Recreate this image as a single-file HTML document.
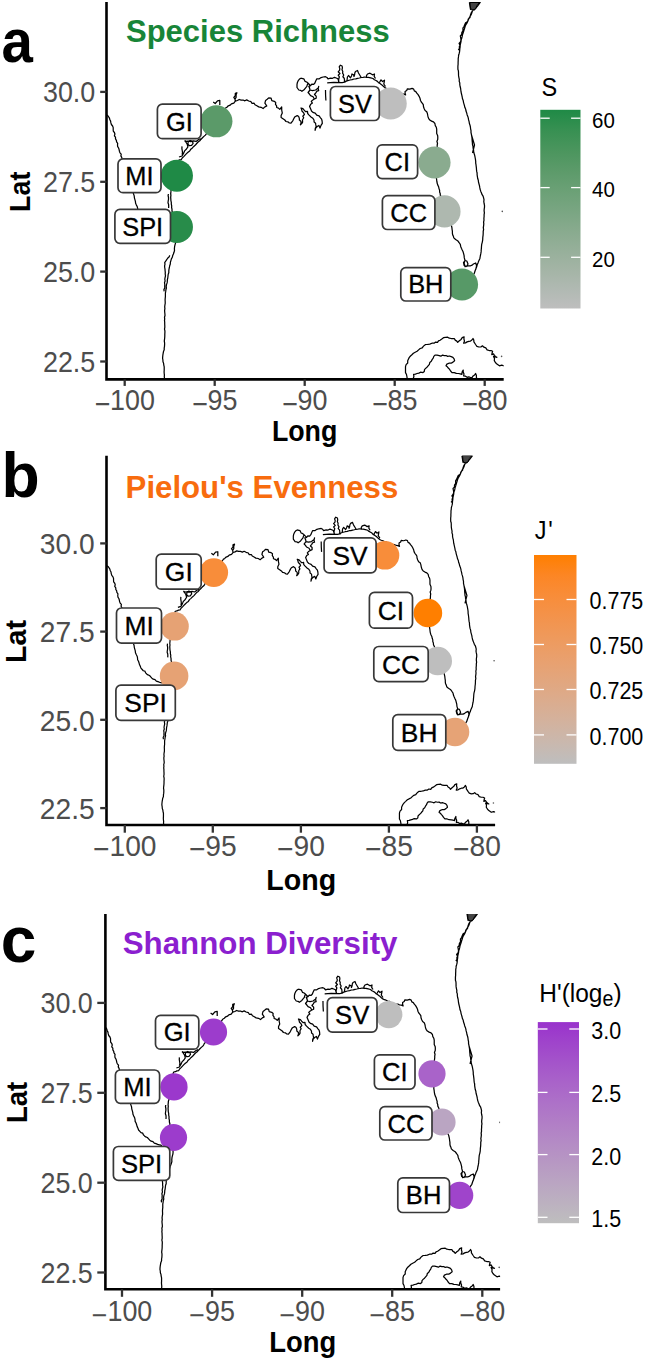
<!DOCTYPE html>
<html><head><meta charset="utf-8"><style>html,body{margin:0;padding:0;background:#fff;}svg{display:block;}text{font-family:"Liberation Sans",sans-serif;}</style></head><body>
<svg width="645" height="1361" viewBox="0 0 645 1361">
<defs>
<path id="coast" d="M106.5 114.7 L108.1 116.0 L109.3 117.8 L109.8 119.5 L110.6 121.1 L110.9 122.9 L111.4 124.5 L112.6 126.0 L113.2 127.6 L113.2 129.5 L113.3 131.2 L114.4 132.5 L114.9 134.0 L114.4 135.8 L115.5 137.2 L115.5 138.9 L116.4 140.3 L116.6 141.9 L117.7 143.3 L117.5 145.0 L117.7 146.6 L118.6 148.0 L119.1 149.6 L119.4 151.2 L120.0 152.8 L121.2 154.1 L120.9 155.9 L121.7 157.4 L122.2 159.0 L123.1 160.3 L124.1 161.7 L123.8 163.6 L124.8 165.0 L125.1 166.6 L126.0 168.0 L126.1 169.9 L126.9 171.5 L127.2 173.3 L128.4 174.8 L128.5 176.7 L129.5 178.3 L130.0 180.0 L129.9 181.7 L130.4 183.2 L131.7 184.6 L132.0 186.2 L132.3 187.7 L131.9 189.5 L132.9 190.9 L133.1 192.6 L133.6 194.1 L134.2 195.9 L134.4 197.8 L134.9 199.6 L135.4 201.4 L135.6 203.3 L136.4 205.1 L137.3 206.8 L137.7 208.6 L137.8 210.4 L138.7 212.0 L139.3 213.8 L139.8 215.6 L140.6 217.2 L141.2 219.0 L142.5 220.4 L143.6 221.6 L145.3 222.1 L146.0 223.8 L147.1 224.9 L148.4 225.9 L150.0 226.5 L151.2 227.8 L152.4 229.2 L153.8 230.2 L155.6 230.7 L156.9 232.2 L158.6 232.7 L160.3 233.4 L161.9 233.8 L163.6 234.2 L164.8 235.7 L166.2 236.4 L168.0 236.5 L169.9 236.3 L171.7 237.4 L173.6 237.2 L175.5 237.6 M164.7 380.0 L164.5 378.4 L164.3 376.8 L164.4 375.1 L164.2 373.5 L164.1 371.9 L164.2 370.2 L164.2 368.6 L164.2 366.8 L163.8 365.1 L163.6 363.4 L163.0 361.8 L162.9 360.0 L162.6 358.3 L162.7 356.6 L162.9 354.8 L163.2 353.1 L163.5 351.4 L164.2 349.8 L164.2 348.0 L164.5 346.3 L164.6 344.6 L164.6 342.9 L164.3 341.1 L164.5 339.4 L164.7 337.7 L164.8 336.0 L164.8 334.3 L164.9 332.6 L164.9 330.9 L164.5 329.1 L164.8 327.4 L164.8 325.7 L164.7 324.0 L164.7 322.3 L164.5 320.6 L164.7 318.9 L164.5 317.2 L165.0 315.5 L164.9 313.7 L164.7 312.0 L164.6 310.3 L164.9 308.6 L164.7 306.9 L164.9 305.2 L165.2 303.5 L165.2 301.7 L165.1 300.0 L165.2 298.3 L165.4 296.6 L165.4 294.8 L165.4 293.1 L165.7 291.4 L165.9 289.7 L166.4 288.0 L166.2 286.3 L166.5 284.6 L167.1 282.9 L167.3 281.2 L167.4 279.5 L167.8 277.8 L168.0 276.0 L168.2 274.3 L168.8 272.7 L168.8 270.9 L169.0 269.1 L169.4 267.5 L169.7 265.7 L170.3 264.0 L170.4 262.3 L170.9 260.6 L171.4 258.9 L172.3 257.3 L172.7 255.6 L173.4 254.0 L174.0 252.3 L174.5 250.5 L174.4 248.6 L174.6 246.7 L175.0 244.9 L175.5 243.1 L175.7 241.3 L175.6 239.4 L175.5 237.6 L175.1 235.8 L175.0 234.0 L174.7 232.2 L174.6 230.4 L174.2 228.6 L174.3 226.8 L174.0 225.0 L174.0 223.2 L173.8 221.5 L173.4 219.7 L173.3 218.0 L172.5 216.3 L172.4 214.5 L172.5 212.7 L172.0 211.0 L172.0 209.2 L171.6 207.5 L171.7 205.8 L171.3 204.1 L171.3 202.3 L170.9 200.6 L170.8 198.9 L170.7 197.1 L170.9 195.4 L170.7 193.6 L170.9 191.9 L171.0 190.2 L171.6 188.6 L171.4 186.8 L171.4 185.1 L171.7 183.4 L172.0 181.7 L172.5 180.1 L172.5 178.4 L172.7 176.7 L173.0 175.0 L173.2 173.2 L174.1 171.6 L174.2 169.7 L174.5 168.0 L174.8 166.2 L175.2 164.4 L175.7 162.7 L176.3 161.0 L178.0 160.7 L179.5 159.9 L181.2 159.7 L182.2 158.0 L183.7 156.6 L185.1 155.1 L186.5 153.6 L188.0 152.2 L189.7 151.0 L190.8 149.2 L192.4 147.9 L193.8 146.4 L195.4 145.1 L196.7 143.5 L198.1 142.0 L199.8 140.8 L201.1 139.2 L202.5 137.8 L203.9 136.4 L205.4 135.1 L206.3 133.8 L207.1 132.3 L208.2 131.1 L209.1 129.8 L210.4 128.7 L211.3 127.4 L212.1 125.9 L212.9 124.5 L213.9 123.2 L215.0 122.0 L215.9 120.5 L216.9 119.1 L217.9 117.8 L219.3 116.6 L219.9 115.0 L220.9 113.6 L222.3 112.5 L223.2 111.0 L224.4 109.8 L225.2 108.2 M225.2 108.2 L226.9 107.2 L228.3 105.8 L230.1 105.2 L231.4 103.9 L233.8 103.1 L235.3 101.2 L235.0 99.1 L233.8 97.3 L235.3 95.6 L235.3 93.4 L236.9 92.7 L236.1 94.9 L236.1 97.3 L235.0 99.1 L235.3 101.2 L237.4 100.5 L239.2 99.5 L241.1 100.1 L243.0 100.0 L244.9 100.8 L246.7 99.9 L248.7 101.0 L251.0 101.7 L251.9 103.3 L254.1 103.2 L255.0 104.8 L256.9 105.8 L258.7 106.9 L261.1 107.3 L263.1 108.5 L264.9 106.9 L266.8 106.0 L265.9 104.6 L264.9 103.2 L265.6 100.4 L267.2 99.3 L268.7 97.9 L271.1 98.2 L271.8 100.7 L274.3 101.3 L275.7 102.5 L275.5 104.4 L276.6 105.8 L276.7 107.5 L278.5 108.1 L279.8 109.4 L281.7 106.9 L281.7 110.0 L282.3 113.1 L281.1 115.6 L281.1 117.5 L283.0 118.7 L284.8 120.0 L286.0 121.5 L287.9 121.8 L289.3 122.9 L291.0 123.1 L292.9 120.6 L294.1 118.1 L295.0 116.7 L297.2 115.6 L298.7 116.6 L299.3 118.3 L299.4 120.1 L301.0 121.4 L301.0 123.2 L300.4 124.8 L301.7 123.6 L302.6 122.1 L302.5 119.8 L303.7 117.8 L302.8 116.2 L304.4 114.5 L303.7 112.9 L302.1 111.3 L301.5 109.1 L301.0 108.0 L302.9 108.7 L304.2 110.2 L305.6 111.6 L307.5 111.3 L307.7 113.5 L309.1 115.1 L311.3 117.2 L312.9 118.3 L314.0 120.0 L314.1 122.0 L315.6 123.2 L315.8 124.9 L316.2 126.5 L315.3 128.3 L315.1 130.3 L315.7 128.1 L317.2 126.5 L318.9 125.4 L320.0 128.1 L321.0 125.4 L322.3 123.4 L322.1 121.0 L321.6 119.2 L320.5 117.8 L319.1 115.8 L316.7 115.1 L315.2 113.2 L312.9 112.4 L311.5 111.0 L310.7 109.1 L309.6 106.4 L310.7 104.2 L312.4 103.1 L311.3 101.5 L312.5 100.2 L314.0 99.3 L316.2 98.3 L316.2 96.1 L314.5 94.5 L315.8 92.8 L316.9 91.2 L318.7 90.6 L318.1 88.4 L318.7 86.3 L318.3 88.0 L316.9 89.0 L315.6 90.0 L312.5 90.6 L310.0 90.0 L309.6 88.1 L308.8 86.3 L310.6 85.7 L311.8 84.2 L313.7 84.4 L314.9 83.0 L315.6 81.3 L316.8 78.8 L319.3 78.8 L321.1 77.6 L323.1 77.0 L325.5 76.7 L327.0 77.5 L328.0 78.8 L330.5 78.2 L332.6 78.3 L334.5 77.3 L336.2 78.0 L337.9 78.8 L338.9 81.8 L338.6 80.1 L338.9 78.5 L339.4 76.8 L338.2 75.2 L339.9 73.5 L338.2 71.8 L339.6 70.2 L339.8 68.6 L339.2 66.9 L340.4 65.2 L342.1 66.0 L342.4 67.9 L342.0 69.7 L342.8 71.4 L342.6 73.2 L343.7 75.0 L342.9 76.8 L344.2 78.2 L344.5 80.0 L344.4 81.8 M344.4 81.8 L347.0 80.8 L350.0 80.0 L352.1 79.7 L354.0 79.0 L355.8 78.9 L357.6 78.3 L359.4 78.0 L361.2 77.5 L363.0 77.4 L364.8 77.0 L366.6 77.5 L368.4 77.3 L370.7 77.9 L373.0 78.5 L374.4 79.7 L376.0 80.5 L377.4 81.4 L378.5 82.7 L380.0 83.5 L381.9 84.9 L383.6 86.5 L385.3 87.9 M347.0 80.5 L347.2 78.7 L347.4 77.0 L348.5 75.5 L350.5 77.8 L351.5 76.0 L352.0 74.0 L353.6 74.8 L354.0 76.5 L354.6 74.9 L354.8 73.1 L355.5 71.5 L357.5 70.5 L358.5 73.0 L360.0 75.5 L361.5 78.0 M366.5 77.4 L366.5 75.6 L367.5 74.0 L370.0 73.2 L372.5 74.8 L374.5 74.0 L374.2 76.4 L375.5 78.5 M379.5 82.5 L381.0 79.8 L382.5 81.5 L384.5 80.2 L384.2 82.1 L383.8 84.0 L385.5 86.5 M385.3 87.9 L386.9 88.7 L388.6 89.2 L390.1 90.0 L391.9 90.3 L393.2 91.7 L395.0 92.0 L396.7 92.9 L398.5 93.1 L400.4 93.1 L402.1 94.0 L403.9 94.2 L405.6 94.9 L405.1 93.3 L405.1 91.6 L406.7 90.5 L407.4 88.8 L409.8 89.2 L412.1 88.4 L413.7 89.1 L414.3 90.9 L415.8 91.6 L416.8 93.2 L418.1 94.7 L419.1 96.3 L420.0 98.3 L420.5 100.5 L421.3 102.0 L422.4 103.3 L423.3 104.7 L423.5 106.8 L424.2 108.8 L425.1 110.5 L426.7 111.7 L427.4 113.5 L427.7 115.2 L428.1 117.0 L428.7 118.6 L429.8 120.0 L431.6 121.1 L433.5 121.9 L434.9 123.5 L435.3 125.6 L436.3 127.3 L436.7 129.2 L436.7 131.2 L436.7 133.6 L437.7 135.8 L437.8 137.7 L437.7 139.5 L436.9 141.4 L437.5 143.3 L437.2 145.1 M437.2 145.1 L437.2 146.8 L437.0 148.5 L436.7 150.2 L436.9 151.9 L436.8 153.5 L436.7 155.2 L436.9 156.9 L436.6 158.6 L436.5 160.3 L436.5 162.0 L436.3 163.7 L436.8 165.5 L436.6 167.2 L436.8 168.9 L436.4 170.7 L436.4 172.4 L436.8 174.1 L436.3 175.8 L436.3 177.6 L436.6 179.3 L436.8 181.2 L437.1 183.0 L437.7 184.9 L438.6 186.7 L439.0 188.6 L439.6 190.2 L439.6 191.9 L440.2 193.4 L440.3 195.1 L441.1 196.7 L441.7 198.4 L442.5 200.0 L442.9 201.7 L443.5 203.4 L443.9 205.1 L444.7 206.7 L445.3 208.4 L446.0 210.0 L446.6 211.6 L447.0 213.2 L447.7 214.7 L448.3 216.3 L448.5 218.0 L449.0 219.6 L449.7 221.1 L450.3 222.7 L451.1 224.2 L451.5 225.8 L451.9 227.7 L452.1 229.5 L452.4 231.4 L452.4 233.3 L452.7 234.9 L453.4 236.3 L453.8 237.9 L455.6 239.5 L457.6 240.7 L459.0 242.5 L460.3 244.4 L460.7 246.4 L461.4 248.2 L462.2 250.0 L463.1 251.8 L463.6 253.7 L464.1 255.6 L464.3 257.9 L465.0 260.2 L464.1 263.0 L464.6 264.8 L465.0 266.7 L467.8 265.8 L470.6 265.8 L472.2 265.1 L473.4 264.0 L475.7 263.0 L476.6 265.8 L476.2 267.4 L475.9 269.0 L475.2 270.5 L474.3 273.3 L473.2 274.9 L472.0 276.6 L471.2 278.4 L470.0 280.0 L468.8 281.2 L467.4 282.1 L465.8 282.8 L464.6 283.9 L463.5 285.2 L462.0 286.0 L460.7 287.3 L459.4 288.6 L458.0 289.8 L456.3 290.7 L455.0 292.0 M475.2 270.5 L475.8 269.0 L476.4 267.5 L476.9 266.0 L477.3 264.4 L478.0 263.0 L478.5 261.4 L479.2 259.9 L479.9 258.4 L480.3 256.0 L480.8 253.7 L481.1 251.9 L481.2 250.0 L481.4 248.1 L481.5 246.3 L481.7 244.4 L482.3 242.1 L482.7 239.8 L482.8 237.4 L483.1 235.1 L483.2 233.2 L483.2 231.4 L483.6 229.5 L483.3 227.7 L483.6 225.8 L483.8 223.9 L483.6 222.1 L484.0 220.2 L483.9 218.4 L484.1 216.5 L484.1 214.6 L484.4 212.8 L484.1 210.9 L484.2 209.1 L484.5 207.2 L484.5 205.3 L484.1 203.5 L483.8 201.6 L484.0 199.7 L483.6 197.9 L483.1 196.2 L482.1 194.7 L481.5 193.0 L480.8 191.4 L480.2 189.6 L479.8 187.7 L479.5 185.8 L479.0 184.0 L478.5 182.2 L478.3 180.3 L477.7 178.5 L477.4 176.6 L477.1 174.7 L477.1 173.0 L476.7 171.4 L476.5 169.7 L476.4 168.0 L476.2 166.4 L476.0 164.7 L475.7 163.1 L475.7 161.4 L475.5 159.7 L475.2 158.0 L474.9 156.4 L474.5 154.7 L474.0 153.1 L473.7 151.4 L473.5 149.7 L473.1 148.1 L473.0 146.4 L472.5 144.7 L472.4 143.0 L472.2 141.3 L472.1 139.6 L472.0 137.9 L471.7 136.2 L471.4 134.4 L471.0 132.5 L471.0 130.7 L470.6 128.8 L470.4 127.0 L470.0 125.2 L469.4 123.5 L469.1 121.7 L468.6 119.9 L468.3 118.1 L467.8 116.4 L467.1 114.7 L466.7 112.9 L466.0 111.1 L465.7 109.3 L464.9 107.6 L464.5 105.8 L464.0 104.1 L463.5 102.3 L463.2 100.5 L462.5 98.8 L462.2 97.0 L461.8 95.2 L461.4 93.5 L461.0 91.7 L460.8 90.0 L460.6 88.2 L460.1 86.5 L459.8 84.7 L459.8 82.9 L459.2 81.2 L459.3 79.4 L458.9 77.6 L458.6 75.9 L458.5 74.1 L458.5 72.5 L458.4 70.9 L457.9 69.3 L457.9 67.7 L457.9 66.1 L458.1 64.3 L458.1 62.4 L458.2 60.6 L458.2 58.7 L458.5 56.9 L458.6 55.3 L459.1 53.7 L459.5 52.1 L459.7 50.5 L459.8 48.9 L460.1 47.1 L460.2 45.2 L460.6 43.4 L461.0 41.6 L461.2 39.7 L461.8 38.1 L462.2 36.4 L462.5 34.7 L463.1 33.1 L463.6 31.5 L464.1 29.8 L464.6 28.2 L465.1 26.5 L465.8 24.8 L466.9 23.2 L467.7 21.5 L468.4 19.8 L469.1 18.1 L470.0 16.5 L471.0 14.9 L471.7 13.2 L472.3 11.4 L473.2 9.7 L473.7 7.9 L474.5 5.9 L475.3 4.0 L476.0 2.0 L477.9 1.6 L479.7 1.0 M469.4 2.4 L480.2 2.4 L477.5 6.0 L474.0 10.0 L470.5 9.5 L469.4 2.4 M300.7 78.2 L303.8 78.8 L305.0 81.3 L306.7 82.0 L308.1 83.2 L307.3 84.7 L306.9 86.3 L305.6 87.8 L304.4 89.4 L301.9 91.3 L300.5 90.3 L298.8 90.0 L297.0 87.5 L297.0 84.4 L297.4 82.5 L298.2 80.7 L299.3 79.3 L300.7 78.2 M308.1 83.2 L310.6 85.7 M308.8 86.3 L309.5 88.1 L310.0 90.0 L308.1 92.5 L309.4 94.0 L310.6 95.6 L313.1 96.8 L314.4 99.3 M327.2 82.9 L333.7 82.4 L342.1 82.6 L345.8 82.0 M325.5 90.0 L325.6 95.5 L325.9 100.5 M407.2 380.0 L407.2 378.6 L406.9 376.5 L406.5 374.5 L405.5 372.6 L405.5 370.6 L405.5 368.7 L405.5 366.7 L406.1 364.6 L407.7 363.0 L407.7 360.7 L408.5 359.0 L409.3 357.4 L410.5 356.0 L411.9 354.7 L413.4 353.2 L415.2 352.2 L417.1 351.3 L418.6 349.9 L420.2 348.5 L422.2 347.9 L423.1 346.6 L424.3 345.4 L425.6 344.5 L427.7 344.4 L429.8 344.1 L431.9 343.2 L434.1 343.2 L435.6 342.1 L437.5 342.4 L438.5 340.9 L440.1 340.2 L441.8 339.0 L443.5 337.7 L445.6 337.3 L447.7 337.2 L449.3 338.2 L451.2 338.5 L454.3 338.5 L455.2 340.1 L456.8 341.1 L457.7 342.4 L459.3 340.8 L461.1 339.4 L462.2 337.6 L464.1 336.8 L463.9 339.0 L464.5 341.1 L463.6 343.2 L465.5 342.9 L467.1 341.9 L468.8 341.3 L470.5 341.1 L471.9 340.0 L473.0 338.5 L473.8 340.1 L473.9 341.9 L475.6 344.5 L476.9 346.3 L479.0 347.0 L480.9 346.9 L482.4 345.8 L483.9 347.2 L485.8 347.9 L487.1 349.8 L489.2 350.5 L491.0 350.5 L492.6 351.3 L492.1 353.0 L491.8 354.7 L493.5 353.9 L494.4 355.3 L495.4 356.5 L496.9 357.3 L495.2 357.0 L493.5 356.4 L494.5 358.4 L494.3 360.7 L495.4 362.5 L496.9 364.1 L499.4 365.8 L501.7 365.2 L504.0 365.8 M413.2 380.0 L413.2 378.6 L413.9 376.5 L413.6 374.3 L415.4 374.1 L417.1 373.5 L418.9 373.1 L420.5 372.2 L423.0 372.6 L424.3 371.5 L424.5 369.6 L425.6 368.4 L427.0 367.2 L428.1 365.8 L429.4 364.3 L429.8 362.4 L431.3 361.2 L432.1 359.6 L433.2 358.1 L433.8 356.4 L435.0 355.1 L437.1 355.2 L439.2 355.6 L440.9 356.2 L442.6 355.1 L444.3 355.6 L446.0 355.5 L447.7 356.4 L449.4 356.0 L451.2 356.6 L452.9 357.3 L454.1 358.8 L454.6 360.7 L453.0 362.1 L451.2 363.2 L448.9 363.2 L446.9 364.1 L446.0 365.8 L447.3 366.8 L448.3 368.0 L449.4 369.2 L450.6 371.0 L452.0 372.6 L454.3 372.6 L456.3 373.4 L458.5 373.5 L460.2 373.9 L461.9 374.3 L462.1 372.1 L463.2 370.1 L463.2 372.1 L464.0 374.0 L463.6 376.0 L465.5 376.2 L467.1 377.3 L468.8 376.9 L470.5 377.5 L472.2 377.3 L473.1 375.9 L474.6 374.9 L475.6 373.5 L476.4 375.5 L476.4 377.7 L478.1 380.0 M169.8 255.4 L169.0 257.0 L167.6 258.2 L166.7 259.7 L165.7 261.2 L164.7 262.6 L165.0 264.2 L164.6 265.9 L164.7 267.5 L165.0 269.1 L165.1 270.7 L165.3 272.4 L165.2 274.0 L165.5 275.8 L165.1 277.5 L164.8 279.2 L165.1 281.0 L164.5 282.7 L164.8 284.5 L164.7 286.2 L164.8 287.9 L163.9 289.6 L164.2 291.4 M168.4 194.0 L168.1 195.7 L168.5 197.5 L168.5 199.3 L168.2 201.0 L168.0 202.8 L168.6 204.5 L168.7 206.2 L168.6 208.0 M184.6 140.5 L186.1 141.4 L187.9 141.2 L190.9 141.6 L193.5 140.8 L196.1 141.4 L198.3 139.7 L200.5 138.5 M188.3 141.6 L190.1 140.5 L192.4 141.2 L193.1 143.4 L191.6 145.3 L189.4 145.7 L187.9 144.2 L188.3 141.6 M184.6 140.5 L186.0 142.2 L187.2 144.2 L187.9 146.8 L186.5 149.0 L184.6 150.9 L183.5 153.5 L182.0 156.0 L179.0 157.0 M182.0 146.4 L181.9 148.7 L182.3 150.9 L182.5 152.8 L182.0 154.6 M465.0 260.5 L463.5 262.5 L464.2 265.5 L466.5 266.5 L468.0 264.0 L466.8 261.0 L465.0 260.5 M474.5 5.0 L474.7 7.3 L474.0 9.2 L472.5 10.9 L471.2 12.9 L470.4 15.2 L470.0 17.5 L468.3 19.0 L467.7 21.4 L465.6 22.8 L464.8 24.6 L464.0 26.5 L462.9 28.2 L463.0 30.6 L461.8 32.6 L461.7 34.5 L460.3 36.0 L460.7 38.0 L461.0 40.1 L460.4 41.8 L459.1 43.4 L460.0 45.2 L459.3 46.8 L459.5 48.5 L458.3 50.0 M213.2 102.0 L215.2 103.5 L217.5 100.8 L219.8 100.4 L219.8 105.1 M471.5 135.0 L474.5 145.0 L472.5 153.0"/>
<clipPath id="clipa"><rect x="106.5" y="1.9" width="397.2" height="377.5"/></clipPath>
<clipPath id="clipb"><rect x="106.5" y="455.7" width="388.6" height="369.3"/></clipPath>
<clipPath id="clipc"><rect x="105.4" y="913.9" width="394.7" height="375.4"/></clipPath>
</defs>
<rect width="645" height="1361" fill="#fff"/>
<g clip-path="url(#clipa)"><use href="#coast" transform="matrix(1.00000 0 0 1.00000 0.000 0.000)" fill="none" stroke="#000" stroke-width="1.25" stroke-linejoin="round" vector-effect="non-scaling-stroke"/>
<path d="M470.0 2.4 L479.5 2.4 L477.0 5.5 L475.5 9.0 L472.5 10.0 L470.5 8.0 L470.0 2.4 Z" transform="matrix(1.00000 0 0 1.00000 0.000 0.000)" fill="#444" stroke="#000" stroke-width="1" vector-effect="non-scaling-stroke"/>
<circle cx="502.3" cy="211.4" r="0.8" fill="#555"/>
<circle cx="501.6" cy="356.4" r="0.8" fill="#555"/>
</g>
<path d="M106.5 1.9 V379.4 H503.7" fill="none" stroke="#000" stroke-width="2.6"/>
<line x1="100.2" y1="91.9" x2="106.5" y2="91.9" stroke="#333333" stroke-width="2.3"/>
<text transform="translate(95.3 102.4) scale(1 1.090)" font-size="26.9" fill="#4d4d4d" text-anchor="end">30.0</text>
<line x1="100.2" y1="181.8" x2="106.5" y2="181.8" stroke="#333333" stroke-width="2.3"/>
<text transform="translate(95.3 192.3) scale(1 1.090)" font-size="26.9" fill="#4d4d4d" text-anchor="end">27.5</text>
<line x1="100.2" y1="271.6" x2="106.5" y2="271.6" stroke="#333333" stroke-width="2.3"/>
<text transform="translate(95.3 282.1) scale(1 1.090)" font-size="26.9" fill="#4d4d4d" text-anchor="end">25.0</text>
<line x1="100.2" y1="361.5" x2="106.5" y2="361.5" stroke="#333333" stroke-width="2.3"/>
<text transform="translate(95.3 372.0) scale(1 1.090)" font-size="26.9" fill="#4d4d4d" text-anchor="end">22.5</text>
<line x1="124.7" y1="379.4" x2="124.7" y2="385.9" stroke="#333333" stroke-width="2.3"/>
<text transform="translate(124.7 410.2) scale(1 1.090)" font-size="26.9" fill="#4d4d4d" text-anchor="middle"><tspan dy="3.2">−</tspan><tspan dy="-3.2">100</tspan></text>
<line x1="214.7" y1="379.4" x2="214.7" y2="385.9" stroke="#333333" stroke-width="2.3"/>
<text transform="translate(214.7 410.2) scale(1 1.090)" font-size="26.9" fill="#4d4d4d" text-anchor="middle"><tspan dy="3.2">−</tspan><tspan dy="-3.2">95</tspan></text>
<line x1="304.7" y1="379.4" x2="304.7" y2="385.9" stroke="#333333" stroke-width="2.3"/>
<text transform="translate(304.7 410.2) scale(1 1.090)" font-size="26.9" fill="#4d4d4d" text-anchor="middle"><tspan dy="3.2">−</tspan><tspan dy="-3.2">90</tspan></text>
<line x1="394.7" y1="379.4" x2="394.7" y2="385.9" stroke="#333333" stroke-width="2.3"/>
<text transform="translate(394.7 410.2) scale(1 1.090)" font-size="26.9" fill="#4d4d4d" text-anchor="middle"><tspan dy="3.2">−</tspan><tspan dy="-3.2">85</tspan></text>
<line x1="484.7" y1="379.4" x2="484.7" y2="385.9" stroke="#333333" stroke-width="2.3"/>
<text transform="translate(484.7 410.2) scale(1 1.090)" font-size="26.9" fill="#4d4d4d" text-anchor="middle"><tspan dy="3.2">−</tspan><tspan dy="-3.2">80</tspan></text>
<text transform="translate(304.6 441.0) scale(1 1.100)" font-size="26.8" font-weight="bold" fill="#000" text-anchor="middle">Long</text>
<text transform="translate(29.9 191.8) rotate(-90) scale(1 1.100)" font-size="26.8" font-weight="bold" fill="#000" text-anchor="middle">Lat</text>
<text transform="translate(1.4 61.8) scale(0.910 1)" font-size="62.0" font-weight="bold" fill="#000">a</text>
<text x="126.0" y="41.8" font-size="31.0" font-weight="bold" fill="#188538">Species Richness</text>
<circle cx="216.4" cy="121.3" r="16.05" fill="#5b9a69"/>
<circle cx="176.9" cy="175.7" r="16.05" fill="#1f8a46"/>
<circle cx="176.9" cy="227.0" r="16.05" fill="#288c4a"/>
<circle cx="390.7" cy="103.5" r="16.05" fill="#bebebe"/>
<circle cx="434.5" cy="162.5" r="16.05" fill="#8aab8f"/>
<circle cx="444.5" cy="211.4" r="16.05" fill="#aeb8af"/>
<circle cx="462.0" cy="284.5" r="16.05" fill="#579967"/>
<rect x="157.4" y="104.2" width="43.7" height="34.5" rx="5" ry="5" fill="#fff" stroke="#383838" stroke-width="1.7"/>
<text x="179.3" y="130.5" font-size="25.4" fill="#000" stroke="#000" stroke-width="0.3" text-anchor="middle">GI</text>
<rect x="118.0" y="158.9" width="43.0" height="33.8" rx="5" ry="5" fill="#fff" stroke="#383838" stroke-width="1.7"/>
<text x="139.4" y="184.9" font-size="25.4" fill="#000" stroke="#000" stroke-width="0.3" text-anchor="middle">MI</text>
<rect x="114.9" y="209.4" width="55.6" height="33.9" rx="5" ry="5" fill="#fff" stroke="#383838" stroke-width="1.7"/>
<text x="142.7" y="235.5" font-size="25.4" fill="#000" stroke="#000" stroke-width="0.3" text-anchor="middle">SPI</text>
<rect x="330.4" y="86.5" width="48.9" height="34.0" rx="5" ry="5" fill="#fff" stroke="#383838" stroke-width="1.7"/>
<text x="354.9" y="112.5" font-size="25.4" fill="#000" stroke="#000" stroke-width="0.3" text-anchor="middle">SV</text>
<rect x="377.1" y="144.8" width="40.5" height="33.8" rx="5" ry="5" fill="#fff" stroke="#383838" stroke-width="1.7"/>
<text x="397.3" y="170.8" font-size="25.4" fill="#000" stroke="#000" stroke-width="0.3" text-anchor="middle">CI</text>
<rect x="382.4" y="195.6" width="52.5" height="33.9" rx="5" ry="5" fill="#fff" stroke="#383838" stroke-width="1.7"/>
<text x="408.7" y="221.7" font-size="25.4" fill="#000" stroke="#000" stroke-width="0.3" text-anchor="middle">CC</text>
<rect x="400.8" y="267.6" width="50.0" height="33.4" rx="5" ry="5" fill="#fff" stroke="#383838" stroke-width="1.7"/>
<text x="425.8" y="293.3" font-size="25.4" fill="#000" stroke="#000" stroke-width="0.3" text-anchor="middle">BH</text>
<defs><linearGradient id="grada" x1="0" y1="1" x2="0" y2="0">
<stop offset="0.00" stop-color="#bebebe"/>
<stop offset="0.10" stop-color="#b0b9b2"/>
<stop offset="0.20" stop-color="#a3b4a5"/>
<stop offset="0.30" stop-color="#95af99"/>
<stop offset="0.40" stop-color="#87aa8d"/>
<stop offset="0.50" stop-color="#78a581"/>
<stop offset="0.60" stop-color="#6aa075"/>
<stop offset="0.70" stop-color="#5b9a69"/>
<stop offset="0.80" stop-color="#4a955d"/>
<stop offset="0.90" stop-color="#379052"/>
<stop offset="1.00" stop-color="#1f8a46"/>
</linearGradient></defs>
<rect x="540.3" y="109.8" width="40.2" height="198.7" fill="url(#grada)"/>
<line x1="540.3" y1="118.2" x2="549.7" y2="118.2" stroke="#fff" stroke-width="1.3"/>
<line x1="571.1" y1="118.2" x2="580.5" y2="118.2" stroke="#fff" stroke-width="1.3"/>
<text transform="translate(592.0 127.7) scale(1 1.1)" font-size="20.5" fill="#000">60</text>
<line x1="540.3" y1="187.6" x2="549.7" y2="187.6" stroke="#fff" stroke-width="1.3"/>
<line x1="571.1" y1="187.6" x2="580.5" y2="187.6" stroke="#fff" stroke-width="1.3"/>
<text transform="translate(592.0 197.1) scale(1 1.1)" font-size="20.5" fill="#000">40</text>
<line x1="540.3" y1="257.3" x2="549.7" y2="257.3" stroke="#fff" stroke-width="1.3"/>
<line x1="571.1" y1="257.3" x2="580.5" y2="257.3" stroke="#fff" stroke-width="1.3"/>
<text transform="translate(592.0 266.8) scale(1 1.1)" font-size="20.5" fill="#000">20</text>
<text transform="translate(541.4 95.6) scale(1 1.070)" font-size="23.5" fill="#000">S</text>
<g clip-path="url(#clipb)"><use href="#coast" transform="matrix(0.97806 0 0 0.98164 2.836 453.187)" fill="none" stroke="#000" stroke-width="1.25" stroke-linejoin="round" vector-effect="non-scaling-stroke"/>
<path d="M470.0 2.4 L479.5 2.4 L477.0 5.5 L475.5 9.0 L472.5 10.0 L470.5 8.0 L470.0 2.4 Z" transform="matrix(0.97806 0 0 0.98164 2.836 453.187)" fill="#444" stroke="#000" stroke-width="1" vector-effect="non-scaling-stroke"/>
<circle cx="494.1" cy="660.7" r="0.8" fill="#555"/>
<circle cx="493.4" cy="803.0" r="0.8" fill="#555"/>
</g>
<path d="M106.5 455.7 V825.0 H495.1" fill="none" stroke="#000" stroke-width="2.6"/>
<line x1="100.2" y1="543.4" x2="106.5" y2="543.4" stroke="#333333" stroke-width="2.3"/>
<text transform="translate(94.7 554.1) scale(1 1.060)" font-size="28.2" fill="#4d4d4d" text-anchor="end">30.0</text>
<line x1="100.2" y1="631.6" x2="106.5" y2="631.6" stroke="#333333" stroke-width="2.3"/>
<text transform="translate(94.7 642.3) scale(1 1.060)" font-size="28.2" fill="#4d4d4d" text-anchor="end">27.5</text>
<line x1="100.2" y1="719.8" x2="106.5" y2="719.8" stroke="#333333" stroke-width="2.3"/>
<text transform="translate(94.7 730.6) scale(1 1.060)" font-size="28.2" fill="#4d4d4d" text-anchor="end">25.0</text>
<line x1="100.2" y1="808.1" x2="106.5" y2="808.1" stroke="#333333" stroke-width="2.3"/>
<text transform="translate(94.7 818.8) scale(1 1.060)" font-size="28.2" fill="#4d4d4d" text-anchor="end">22.5</text>
<line x1="124.8" y1="825.0" x2="124.8" y2="832.7" stroke="#333333" stroke-width="2.3"/>
<text transform="translate(124.8 856.0) scale(1 1.060)" font-size="28.2" fill="#4d4d4d" text-anchor="middle"><tspan dy="3.2">−</tspan><tspan dy="-3.2">100</tspan></text>
<line x1="212.8" y1="825.0" x2="212.8" y2="832.7" stroke="#333333" stroke-width="2.3"/>
<text transform="translate(212.8 856.0) scale(1 1.060)" font-size="28.2" fill="#4d4d4d" text-anchor="middle"><tspan dy="3.2">−</tspan><tspan dy="-3.2">95</tspan></text>
<line x1="300.9" y1="825.0" x2="300.9" y2="832.7" stroke="#333333" stroke-width="2.3"/>
<text transform="translate(300.9 856.0) scale(1 1.060)" font-size="28.2" fill="#4d4d4d" text-anchor="middle"><tspan dy="3.2">−</tspan><tspan dy="-3.2">90</tspan></text>
<line x1="388.9" y1="825.0" x2="388.9" y2="832.7" stroke="#333333" stroke-width="2.3"/>
<text transform="translate(388.9 856.0) scale(1 1.060)" font-size="28.2" fill="#4d4d4d" text-anchor="middle"><tspan dy="3.2">−</tspan><tspan dy="-3.2">85</tspan></text>
<line x1="476.9" y1="825.0" x2="476.9" y2="832.7" stroke="#333333" stroke-width="2.3"/>
<text transform="translate(476.9 856.0) scale(1 1.060)" font-size="28.2" fill="#4d4d4d" text-anchor="middle"><tspan dy="3.2">−</tspan><tspan dy="-3.2">80</tspan></text>
<text transform="translate(301.2 890.0) scale(1 1.060)" font-size="28.6" font-weight="bold" fill="#000" text-anchor="middle">Long</text>
<text transform="translate(26.2 641.5) rotate(-90) scale(1 1.060)" font-size="28.6" font-weight="bold" fill="#000" text-anchor="middle">Lat</text>
<text transform="translate(1.5 497.3) scale(1.000 1)" font-size="62.5" font-weight="bold" fill="#000">b</text>
<text x="125.6" y="498.4" font-size="31.2" font-weight="bold" fill="#f86c0e">Pielou&#39;s Evenness</text>
<circle cx="213.8" cy="572.6" r="14.30" fill="#f88d3a"/>
<circle cx="174.5" cy="626.3" r="14.30" fill="#e6a274"/>
<circle cx="174.1" cy="675.9" r="14.30" fill="#e6a274"/>
<circle cx="385.0" cy="555.3" r="14.30" fill="#f88d3a"/>
<circle cx="427.9" cy="613.0" r="14.30" fill="#ff7f00"/>
<circle cx="437.7" cy="661.0" r="14.30" fill="#bebebe"/>
<circle cx="455.0" cy="732.0" r="14.30" fill="#e6a376"/>
<rect x="156.2" y="554.1" width="45.0" height="35.1" rx="5" ry="5" fill="#fff" stroke="#383838" stroke-width="1.7"/>
<text x="178.8" y="581.1" font-size="26.4" fill="#000" stroke="#000" stroke-width="0.3" text-anchor="middle">GI</text>
<rect x="116.5" y="608.0" width="45.0" height="35.1" rx="5" ry="5" fill="#fff" stroke="#383838" stroke-width="1.7"/>
<text x="139.1" y="635.0" font-size="26.4" fill="#000" stroke="#000" stroke-width="0.3" text-anchor="middle">MI</text>
<rect x="115.9" y="685.2" width="59.4" height="35.1" rx="5" ry="5" fill="#fff" stroke="#383838" stroke-width="1.7"/>
<text x="145.6" y="712.3" font-size="26.4" fill="#000" stroke="#000" stroke-width="0.3" text-anchor="middle">SPI</text>
<rect x="324.1" y="537.8" width="52.0" height="35.1" rx="5" ry="5" fill="#fff" stroke="#383838" stroke-width="1.7"/>
<text x="350.1" y="564.8" font-size="26.4" fill="#000" stroke="#000" stroke-width="0.3" text-anchor="middle">SV</text>
<rect x="369.4" y="592.4" width="43.1" height="35.8" rx="5" ry="5" fill="#fff" stroke="#383838" stroke-width="1.7"/>
<text x="391.0" y="619.7" font-size="26.4" fill="#000" stroke="#000" stroke-width="0.3" text-anchor="middle">CI</text>
<rect x="373.8" y="646.5" width="54.4" height="35.1" rx="5" ry="5" fill="#fff" stroke="#383838" stroke-width="1.7"/>
<text x="401.0" y="673.5" font-size="26.4" fill="#000" stroke="#000" stroke-width="0.3" text-anchor="middle">CC</text>
<rect x="392.8" y="714.7" width="53.0" height="35.6" rx="5" ry="5" fill="#fff" stroke="#383838" stroke-width="1.7"/>
<text x="419.2" y="741.9" font-size="26.4" fill="#000" stroke="#000" stroke-width="0.3" text-anchor="middle">BH</text>
<defs><linearGradient id="gradb" x1="0" y1="1" x2="0" y2="0">
<stop offset="0.00" stop-color="#bebebe"/>
<stop offset="0.10" stop-color="#c9b8ae"/>
<stop offset="0.20" stop-color="#d3b29e"/>
<stop offset="0.30" stop-color="#dbac8e"/>
<stop offset="0.40" stop-color="#e2a67e"/>
<stop offset="0.50" stop-color="#e9a06e"/>
<stop offset="0.60" stop-color="#ee9a5d"/>
<stop offset="0.70" stop-color="#f3934c"/>
<stop offset="0.80" stop-color="#f88d3a"/>
<stop offset="0.90" stop-color="#fc8625"/>
<stop offset="1.00" stop-color="#ff7f00"/>
</linearGradient></defs>
<rect x="534.0" y="555.0" width="42.5" height="208.8" fill="url(#gradb)"/>
<line x1="534.0" y1="599.5" x2="544.0" y2="599.5" stroke="#fff" stroke-width="1.3"/>
<line x1="566.5" y1="599.5" x2="576.5" y2="599.5" stroke="#fff" stroke-width="1.3"/>
<text transform="translate(589.5 609.4) scale(1 1.1)" font-size="21.5" fill="#000">0.775</text>
<line x1="534.0" y1="644.5" x2="544.0" y2="644.5" stroke="#fff" stroke-width="1.3"/>
<line x1="566.5" y1="644.5" x2="576.5" y2="644.5" stroke="#fff" stroke-width="1.3"/>
<text transform="translate(589.5 654.4) scale(1 1.1)" font-size="21.5" fill="#000">0.750</text>
<line x1="534.0" y1="689.5" x2="544.0" y2="689.5" stroke="#fff" stroke-width="1.3"/>
<line x1="566.5" y1="689.5" x2="576.5" y2="689.5" stroke="#fff" stroke-width="1.3"/>
<text transform="translate(589.5 699.4) scale(1 1.1)" font-size="21.5" fill="#000">0.725</text>
<line x1="534.0" y1="734.9" x2="544.0" y2="734.9" stroke="#fff" stroke-width="1.3"/>
<line x1="566.5" y1="734.9" x2="576.5" y2="734.9" stroke="#fff" stroke-width="1.3"/>
<text transform="translate(589.5 744.8) scale(1 1.1)" font-size="21.5" fill="#000">0.700</text>
<text transform="translate(534.7 539.3) scale(1 1.120)" font-size="23.5" fill="#000">J<tspan dx='1.8'>'</tspan></text>
<g clip-path="url(#clipc)"><use href="#coast" transform="matrix(1.00056 0 0 1.00000 -2.719 911.000)" fill="none" stroke="#000" stroke-width="1.25" stroke-linejoin="round" vector-effect="non-scaling-stroke"/>
<path d="M470.0 2.4 L479.5 2.4 L477.0 5.5 L475.5 9.0 L472.5 10.0 L470.5 8.0 L470.0 2.4 Z" transform="matrix(1.00056 0 0 1.00000 -2.719 911.000)" fill="#444" stroke="#000" stroke-width="1" vector-effect="non-scaling-stroke"/>
<circle cx="499.9" cy="1122.4" r="0.8" fill="#555"/>
<circle cx="499.2" cy="1267.4" r="0.8" fill="#555"/>
</g>
<path d="M105.4 913.9 V1289.3 H500.1" fill="none" stroke="#000" stroke-width="2.6"/>
<line x1="97.3" y1="1002.9" x2="105.4" y2="1002.9" stroke="#333333" stroke-width="2.3"/>
<text transform="translate(92.8 1013.2) scale(1 1.070)" font-size="26.9" fill="#4d4d4d" text-anchor="end">30.0</text>
<line x1="97.3" y1="1092.8" x2="105.4" y2="1092.8" stroke="#333333" stroke-width="2.3"/>
<text transform="translate(92.8 1103.1) scale(1 1.070)" font-size="26.9" fill="#4d4d4d" text-anchor="end">27.5</text>
<line x1="97.3" y1="1182.7" x2="105.4" y2="1182.7" stroke="#333333" stroke-width="2.3"/>
<text transform="translate(92.8 1193.0) scale(1 1.070)" font-size="26.9" fill="#4d4d4d" text-anchor="end">25.0</text>
<line x1="97.3" y1="1272.5" x2="105.4" y2="1272.5" stroke="#333333" stroke-width="2.3"/>
<text transform="translate(92.8 1282.8) scale(1 1.070)" font-size="26.9" fill="#4d4d4d" text-anchor="end">22.5</text>
<line x1="122.0" y1="1289.3" x2="122.0" y2="1296.8" stroke="#333333" stroke-width="2.3"/>
<text transform="translate(122.0 1321.2) scale(1 1.070)" font-size="26.9" fill="#4d4d4d" text-anchor="middle"><tspan dy="3.2">−</tspan><tspan dy="-3.2">100</tspan></text>
<line x1="212.1" y1="1289.3" x2="212.1" y2="1296.8" stroke="#333333" stroke-width="2.3"/>
<text transform="translate(212.1 1321.2) scale(1 1.070)" font-size="26.9" fill="#4d4d4d" text-anchor="middle"><tspan dy="3.2">−</tspan><tspan dy="-3.2">95</tspan></text>
<line x1="302.2" y1="1289.3" x2="302.2" y2="1296.8" stroke="#333333" stroke-width="2.3"/>
<text transform="translate(302.2 1321.2) scale(1 1.070)" font-size="26.9" fill="#4d4d4d" text-anchor="middle"><tspan dy="3.2">−</tspan><tspan dy="-3.2">90</tspan></text>
<line x1="392.2" y1="1289.3" x2="392.2" y2="1296.8" stroke="#333333" stroke-width="2.3"/>
<text transform="translate(392.2 1321.2) scale(1 1.070)" font-size="26.9" fill="#4d4d4d" text-anchor="middle"><tspan dy="3.2">−</tspan><tspan dy="-3.2">85</tspan></text>
<line x1="482.3" y1="1289.3" x2="482.3" y2="1296.8" stroke="#333333" stroke-width="2.3"/>
<text transform="translate(482.3 1321.2) scale(1 1.070)" font-size="26.9" fill="#4d4d4d" text-anchor="middle"><tspan dy="3.2">−</tspan><tspan dy="-3.2">80</tspan></text>
<text transform="translate(302.7 1352.0) scale(1 1.070)" font-size="27.4" font-weight="bold" fill="#000" text-anchor="middle">Long</text>
<text transform="translate(27.4 1102.4) rotate(-90) scale(1 1.070)" font-size="27.4" font-weight="bold" fill="#000" text-anchor="middle">Lat</text>
<text transform="translate(0.8 962.3) scale(1.000 1)" font-size="64.0" font-weight="bold" fill="#000">c</text>
<text x="122.7" y="954.0" font-size="31.3" font-weight="bold" fill="#8b1fcf">Shannon Diversity</text>
<circle cx="213.5" cy="1032.0" r="13.60" fill="#9c3ccc"/>
<circle cx="174.0" cy="1086.9" r="13.60" fill="#9b38cc"/>
<circle cx="173.5" cy="1137.5" r="13.60" fill="#9c3ccc"/>
<circle cx="388.8" cy="1014.6" r="13.60" fill="#bebebe"/>
<circle cx="432.0" cy="1073.8" r="13.60" fill="#a963c9"/>
<circle cx="442.0" cy="1122.0" r="13.60" fill="#baa5c2"/>
<circle cx="459.7" cy="1195.3" r="13.60" fill="#9f44cb"/>
<rect x="155.5" y="1015.4" width="43.3" height="33.8" rx="5" ry="5" fill="#fff" stroke="#383838" stroke-width="1.7"/>
<text x="177.2" y="1041.4" font-size="25.6" fill="#000" stroke="#000" stroke-width="0.3" text-anchor="middle">GI</text>
<rect x="115.4" y="1070.0" width="44.2" height="33.3" rx="5" ry="5" fill="#fff" stroke="#383838" stroke-width="1.7"/>
<text x="137.4" y="1095.8" font-size="25.6" fill="#000" stroke="#000" stroke-width="0.3" text-anchor="middle">MI</text>
<rect x="113.4" y="1146.5" width="56.4" height="33.9" rx="5" ry="5" fill="#fff" stroke="#383838" stroke-width="1.7"/>
<text x="141.6" y="1172.6" font-size="25.6" fill="#000" stroke="#000" stroke-width="0.3" text-anchor="middle">SPI</text>
<rect x="327.3" y="997.7" width="49.7" height="34.4" rx="5" ry="5" fill="#fff" stroke="#383838" stroke-width="1.7"/>
<text x="352.2" y="1024.0" font-size="25.6" fill="#000" stroke="#000" stroke-width="0.3" text-anchor="middle">SV</text>
<rect x="374.4" y="1054.8" width="40.6" height="34.3" rx="5" ry="5" fill="#fff" stroke="#383838" stroke-width="1.7"/>
<text x="394.8" y="1081.1" font-size="25.6" fill="#000" stroke="#000" stroke-width="0.3" text-anchor="middle">CI</text>
<rect x="379.8" y="1106.7" width="52.2" height="33.3" rx="5" ry="5" fill="#fff" stroke="#383838" stroke-width="1.7"/>
<text x="405.9" y="1132.5" font-size="25.6" fill="#000" stroke="#000" stroke-width="0.3" text-anchor="middle">CC</text>
<rect x="397.8" y="1177.9" width="51.7" height="34.6" rx="5" ry="5" fill="#fff" stroke="#383838" stroke-width="1.7"/>
<text x="423.6" y="1204.3" font-size="25.6" fill="#000" stroke="#000" stroke-width="0.3" text-anchor="middle">BH</text>
<defs><linearGradient id="gradc" x1="0" y1="1" x2="0" y2="0">
<stop offset="0.00" stop-color="#bebebe"/>
<stop offset="0.10" stop-color="#bcb1c0"/>
<stop offset="0.20" stop-color="#baa5c2"/>
<stop offset="0.30" stop-color="#b798c3"/>
<stop offset="0.40" stop-color="#b48bc5"/>
<stop offset="0.50" stop-color="#b17ec6"/>
<stop offset="0.60" stop-color="#ad71c8"/>
<stop offset="0.70" stop-color="#a963c9"/>
<stop offset="0.80" stop-color="#a454ca"/>
<stop offset="0.90" stop-color="#9f44cb"/>
<stop offset="1.00" stop-color="#9932cc"/>
</linearGradient></defs>
<rect x="537.8" y="1022.1" width="41.2" height="201.1" fill="url(#gradc)"/>
<line x1="537.8" y1="1029.0" x2="547.5" y2="1029.0" stroke="#fff" stroke-width="1.3"/>
<line x1="569.3" y1="1029.0" x2="579.0" y2="1029.0" stroke="#fff" stroke-width="1.3"/>
<text transform="translate(591.2 1038.9) scale(1 1.1)" font-size="21.5" fill="#000">3.0</text>
<line x1="537.8" y1="1092.4" x2="547.5" y2="1092.4" stroke="#fff" stroke-width="1.3"/>
<line x1="569.3" y1="1092.4" x2="579.0" y2="1092.4" stroke="#fff" stroke-width="1.3"/>
<text transform="translate(591.2 1102.3) scale(1 1.1)" font-size="21.5" fill="#000">2.5</text>
<line x1="537.8" y1="1154.6" x2="547.5" y2="1154.6" stroke="#fff" stroke-width="1.3"/>
<line x1="569.3" y1="1154.6" x2="579.0" y2="1154.6" stroke="#fff" stroke-width="1.3"/>
<text transform="translate(591.2 1164.5) scale(1 1.1)" font-size="21.5" fill="#000">2.0</text>
<line x1="537.8" y1="1217.3" x2="547.5" y2="1217.3" stroke="#fff" stroke-width="1.3"/>
<line x1="569.3" y1="1217.3" x2="579.0" y2="1217.3" stroke="#fff" stroke-width="1.3"/>
<text transform="translate(591.2 1227.2) scale(1 1.1)" font-size="21.5" fill="#000">1.5</text>
<text transform="translate(539.3 1001.5) scale(1 1.080)" font-size="24.5" fill="#000">H'(log<tspan dy='4' font-size='80%'>e</tspan><tspan dy='-4'>)</tspan></text>
</svg></body></html>
